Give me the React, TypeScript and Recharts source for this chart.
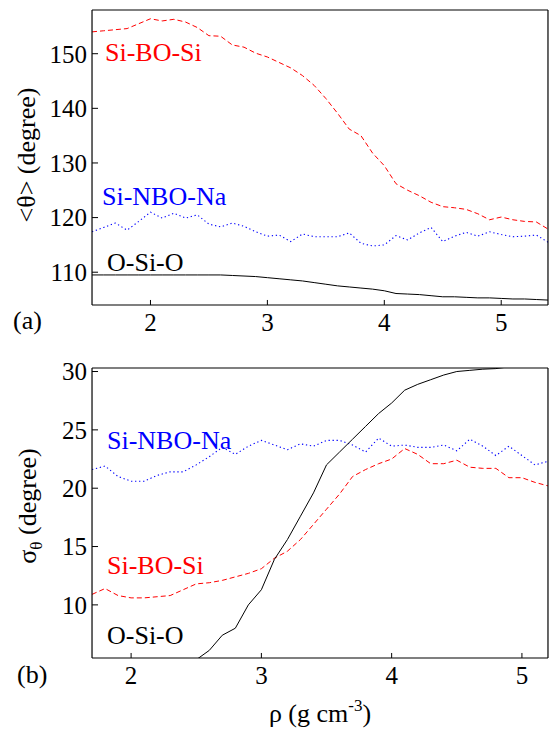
import { LineChart, Line, XAxis, YAxis } from 'recharts';

// panel (a): mean angles
const topRho = [
  1.5, 1.6, 1.7, 1.8, 1.9, 2.0, 2.1, 2.2, 2.3, 2.4, 2.5, 2.6, 2.7, 2.8, 2.9, 3.0, 3.1, 3.2, 3.3, 3.4,
  3.5, 3.6, 3.7, 3.8, 3.9, 4.0, 4.1, 4.2, 4.3, 4.4, 4.5, 4.6, 4.7, 4.8, 4.9, 5.0, 5.1, 5.2, 5.3, 5.4,
];
const topSiBOSi = [
  154.0, 154.2, 154.4, 154.6, 155.5, 156.4, 156.0, 156.3, 155.8, 154.8, 153.3, 153.2, 151.6, 151.2, 150.1, 149.4, 148.4, 147.4, 146.0, 144.2,
  141.8, 139.1, 136.2, 135.0, 131.8, 129.5, 126.2, 125.0, 124.0, 122.8, 122.0, 121.8, 121.5, 120.7, 119.6, 120.1, 119.6, 119.3, 119.2, 117.9,
];
const topSiNBONa = [
  117.4, 118.2, 119.0, 117.7, 119.3, 121.0, 119.9, 120.8, 119.9, 120.5, 118.8, 118.3, 119.0, 118.4, 117.4, 116.6, 116.8, 115.6, 117.0, 116.5,
  116.5, 116.5, 117.2, 115.3, 114.8, 115.0, 116.7, 115.9, 117.2, 118.2, 115.6, 116.6, 117.3, 116.6, 117.4, 116.9, 116.5, 116.6, 116.8, 115.5,
];
const topOSiO = [
  109.5, 109.5, 109.5, 109.5, 109.5, 109.5, 109.5, 109.5, 109.5, 109.5, 109.5, 109.5, 109.4, 109.3, 109.2, 109.0, 108.8, 108.6, 108.4, 108.1,
  107.8, 107.5, 107.3, 107.1, 106.9, 106.6, 106.1, 106.0, 105.9, 105.7, 105.5, 105.5, 105.4, 105.3, 105.3, 105.2, 105.1, 105.1, 105.0, 104.9,
];

// panel (b): angle spread
const bottomRho = [
  1.7, 1.8, 1.9, 2.0, 2.1, 2.2, 2.3, 2.4, 2.5, 2.6, 2.7, 2.8, 2.9, 3.0, 3.1, 3.2, 3.3, 3.4,
  3.5, 3.6, 3.7, 3.8, 3.9, 4.0, 4.1, 4.2, 4.3, 4.4, 4.5, 4.6, 4.7, 4.8, 4.9, 5.0, 5.1, 5.2,
];
const bottomSiBOSi = [
  10.9, 11.4, 10.8, 10.6, 10.6, 10.7, 10.8, 11.3, 11.8, 11.9, 12.1, 12.4, 12.7, 13.1, 14.0, 14.6, 15.6, 16.9,
  18.2, 19.5, 21.0, 21.6, 22.1, 22.5, 23.4, 22.9, 22.1, 22.1, 22.4, 21.8, 21.7, 21.7, 20.9, 20.9, 20.5, 20.2,
];
const bottomSiNBONa = [
  21.6, 21.9, 21.0, 20.6, 20.6, 21.1, 21.4, 21.4, 22.0, 22.7, 23.5, 22.9, 23.6, 24.1, 23.7, 23.3, 23.8, 23.6,
  24.1, 24.1, 23.7, 23.1, 24.3, 23.6, 23.7, 23.5, 23.5, 23.7, 23.2, 24.2, 23.6, 22.8, 23.6, 22.8, 22.0, 22.3,
];
const bottomOSiO = [
  null, null, null, null, null, null, null, null, 5.3, 6.1, 7.4, 8.0, 10.0, 11.3, 13.9, 15.6, 17.6, 19.6,
  22.0, 23.1, 24.2, 25.3, 26.4, 27.3, 28.4, 28.9, 29.3, 29.7, 30.0, 30.1, 30.2, 30.25, 30.4, 30.5, 30.6, 30.7,
];

const rhoTicks = [2, 3, 4, 5];
const topAngleTicks = [110, 120, 130, 140, 150];
const topAngleMinor = [105, 115, 125, 135, 145, 155];
const bottomSigmaTicks = [10, 15, 20, 25, 30];
const bottomSigmaMinor = [7.5, 12.5, 17.5, 22.5, 27.5];

const serif = "'Liberation Serif', 'Times New Roman', serif";
const tickFont = { fill: '#000', fontSize: 25, fontFamily: serif };
const thin = 0.01; // axes need a non-zero size to render

function tenths(from: number, to: number) {
  const out: number[] = [];
  for (let v = Math.round(from * 10); v <= Math.round(to * 10); v++) out.push(v / 10);
  return out;
}

function Panel({ data, xDomain, yDomain, yTicks, yMinor, height, margin }: any) {
  const xMinor = tenths(xDomain[0], xDomain[1]);
  const frame = { stroke: '#000', strokeWidth: 1.2 };
  return (
    <LineChart width={549} height={height} data={data} margin={margin}>
      <XAxis xAxisId="xm" type="number" domain={xDomain} ticks={xMinor} interval={0} tickSize={-3} tick={false}
        axisLine={false} height={thin} allowDataOverflow stroke="#000" />
      <XAxis xAxisId="x" type="number" dataKey="rho" domain={xDomain} ticks={rhoTicks} interval={0} tickSize={-5}
        tickMargin={13} tick={tickFont} height={thin} allowDataOverflow stroke="#000" axisLine={frame} />
      <XAxis xAxisId="xtm" orientation="top" type="number" domain={xDomain} ticks={xMinor} interval={0} tickSize={-3}
        tick={false} axisLine={false} height={thin} allowDataOverflow stroke="#000" />
      <XAxis xAxisId="xt" orientation="top" type="number" domain={xDomain} ticks={rhoTicks} interval={0} tickSize={-5}
        tick={false} height={thin} allowDataOverflow stroke="#000" axisLine={frame} />
      <YAxis yAxisId="ym" type="number" domain={yDomain} ticks={yMinor} interval={0} tickSize={-4} tick={false}
        axisLine={false} width={thin} allowDataOverflow stroke="#000" />
      <YAxis yAxisId="y" type="number" domain={yDomain} ticks={yTicks} interval={0} tickSize={-6} tickMargin={11}
        tick={tickFont} width={thin} allowDataOverflow stroke="#000" axisLine={frame} />
      <YAxis yAxisId="yrm" orientation="right" type="number" domain={yDomain} ticks={yMinor} interval={0} tickSize={-4}
        tick={false} axisLine={false} width={thin} allowDataOverflow stroke="#000" />
      <YAxis yAxisId="yr" orientation="right" type="number" domain={yDomain} ticks={yTicks} interval={0} tickSize={-6}
        tick={false} width={thin} allowDataOverflow stroke="#000" axisLine={frame} />
      <Line xAxisId="x" yAxisId="y" type="linear" dataKey="bo" stroke="#ff0000" strokeWidth={1} strokeDasharray="5 3"
        dot={false} isAnimationActive={false} />
      <Line xAxisId="x" yAxisId="y" type="linear" dataKey="nbo" stroke="#0000ff" strokeWidth={1.1} strokeDasharray="1.3 2.7"
        dot={false} isAnimationActive={false} />
      <Line xAxisId="x" yAxisId="y" type="linear" dataKey="osio" stroke="#000" strokeWidth={1} dot={false}
        isAnimationActive={false} />
    </LineChart>
  );
}

export default function App() {
  const topData = topRho.map((rho, i) => ({ rho, bo: topSiBOSi[i], nbo: topSiNBONa[i], osio: topOSiO[i] }));
  const bottomData = bottomRho.map((rho, i) => ({ rho, bo: bottomSiBOSi[i], nbo: bottomSiNBONa[i], osio: bottomOSiO[i] }));
  const label = { fontFamily: serif, fontSize: 26 };
  return (
    <div style={{ position: 'absolute', left: 0, top: 0, width: 549, height: 730, background: '#fff' }}>
      <div style={{ position: 'absolute', left: 0, top: 0 }}>
        <Panel data={topData} xDomain={[1.5, 5.4]} yDomain={[104, 158]} yTicks={topAngleTicks} yMinor={topAngleMinor}
          height={345} margin={{ top: 10, right: 1, bottom: 40, left: 92 }} />
      </div>
      <div style={{ position: 'absolute', left: 0, top: 345 }}>
        <Panel data={bottomData} xDomain={[1.7, 5.2]} yDomain={[5.45, 30.3]} yTicks={bottomSigmaTicks}
          yMinor={bottomSigmaMinor} height={385} margin={{ top: 23, right: 1, bottom: 72, left: 92 }} />
      </div>
      <svg width={549} height={730} style={{ position: 'absolute', left: 0, top: 0, pointerEvents: 'none' }}>
        <g style={label}>
          <text x={105} y={61} fill="#ff0000">Si-BO-Si</text>
          <text x={102} y={205} fill="#0000ff">Si-NBO-Na</text>
          <text x={107} y={271} fill="#000">O-Si-O</text>
          <text x={107} y={449} fill="#0000ff">Si-NBO-Na</text>
          <text x={107} y={574} fill="#ff0000">Si-BO-Si</text>
          <text x={107} y={644} fill="#000">O-Si-O</text>
          <text x={13} y={329} fill="#000">(a)</text>
          <text x={17} y={683} fill="#000">(b)</text>
          <text x={35} y={155} textAnchor="middle" transform="rotate(-90 35 155)" fill="#000">&lt;θ&gt; (degree)</text>
          <text x={36} y={506} textAnchor="middle" transform="rotate(-90 36 506)" fill="#000">
            σ<tspan fontSize={17} dy={6}>θ</tspan><tspan dy={-6}> (degree)</tspan>
          </text>
          <text x={320} y={722} textAnchor="middle" fill="#000">
            ρ (g cm<tspan fontSize={17} dy={-11}>-3</tspan><tspan dy={11}>)</tspan>
          </text>
        </g>
      </svg>
    </div>
  );
}
